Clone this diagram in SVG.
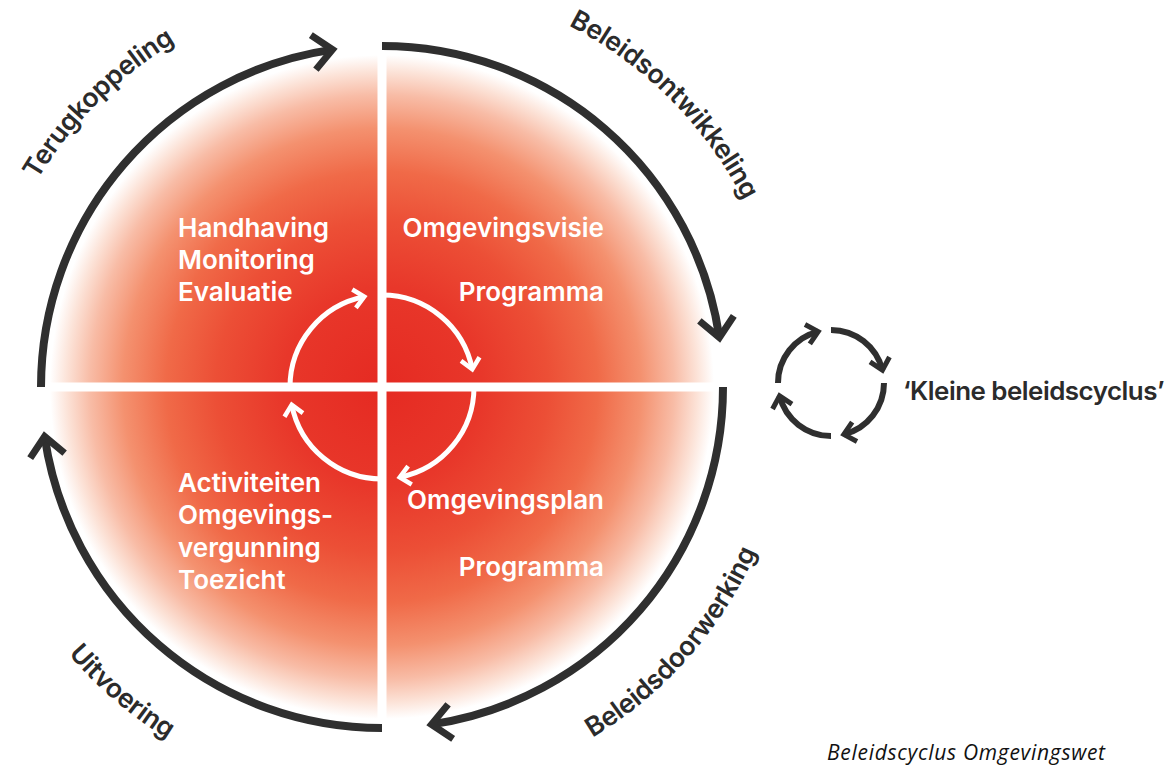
<svg xmlns="http://www.w3.org/2000/svg" width="1172" height="769" viewBox="0 0 1172 769">
  <defs>
    <radialGradient id="glow" cx="382" cy="387" r="332" gradientUnits="userSpaceOnUse">
      <stop offset="0" stop-color="#E52A22"/>
      <stop offset="0.3" stop-color="#E8372A"/>
      <stop offset="0.5" stop-color="#EC4F36"/>
      <stop offset="0.65" stop-color="#F06A48"/>
      <stop offset="0.78" stop-color="#F4916F"/>
      <stop offset="0.88" stop-color="#F8BCA6"/>
      <stop offset="0.95" stop-color="#FCE3D8"/>
      <stop offset="1" stop-color="#FFFFFF"/>
    </radialGradient>
    <marker id="headDark" markerUnits="userSpaceOnUse" viewBox="-30 -30 40 60" refX="0" refY="0" markerWidth="40" markerHeight="60" orient="auto">
      <path d="M-19.3,-17.4 L0,0 L-19.3,17.4" fill="none" stroke="#2f2f2f" stroke-width="7"/>
    </marker>
    <marker id="headWhite" markerUnits="userSpaceOnUse" viewBox="-20 -20 30 40" refX="0" refY="0" markerWidth="30" markerHeight="40" orient="auto">
      <path d="M-10.4,-9.4 L0,0 L-10.4,9.4" fill="none" stroke="#FFFFFF" stroke-width="4.5"/>
    </marker>
    <marker id="headSmall" markerUnits="userSpaceOnUse" viewBox="-20 -20 30 40" refX="0" refY="0" markerWidth="30" markerHeight="40" orient="auto">
      <path d="M-11.1,-10 L0,0 L-11.1,10" fill="none" stroke="#2f2f2f" stroke-width="5"/>
    </marker>
    <!-- baselines for the curved phase labels -->
    <path id="pathTL" d="M-20,387 A402,402 0 0 1 382,-15"/>
    <path id="pathTR" d="M382,-20 A407,407 0 0 1 789,387"/>
    <path id="pathBR" d="M382,796 A409,409 0 0 0 791,387"/>
    <path id="pathBL" d="M-30,387 A412,412 0 0 0 382,799"/>
  </defs>
  <style>
    .ring { fill: none; stroke: #2f2f2f; stroke-width: 8; }
    .inner { fill: none; stroke: #FFFFFF; stroke-width: 5; }
    .mini { fill: none; stroke: #2f2f2f; stroke-width: 6; }
    .phase { font-family: Inter, "Liberation Sans", sans-serif; font-weight: 600; font-size: 26.5px; letter-spacing: -0.3px; fill: #2b2b2b; }
    .task { font-family: Inter, "Liberation Sans", sans-serif; font-weight: 600; font-size: 26px; fill: #FFFFFF; }
    .small-label { font-family: Inter, "Liberation Sans", sans-serif; font-weight: 600; font-size: 25px; letter-spacing: -0.5px; fill: #2b2b2b; }
    .caption { font-family: "Open Sans", Lato, sans-serif; font-style: italic; font-size: 21px; fill: #111111; }
  </style>

  <rect width="1172" height="769" fill="#FFFFFF"/>

  <!-- red glow disc split into quadrants -->
  <g id="disc">
    <circle cx="382" cy="387" r="332" fill="url(#glow)"/>
    <line x1="382" y1="45" x2="382" y2="730" stroke="#FFFFFF" stroke-width="9"/>
    <line x1="40" y1="387" x2="730" y2="387" stroke="#FFFFFF" stroke-width="9"/>
  </g>

  <!-- outer cycle and inner cycle connectors -->
  <g id="connectors">
    <path class="ring" d="M382,46 A341,341 0 0 1 719.39,337.48" marker-end="url(#headDark)"/>
    <path class="ring" d="M723,387 A341,341 0 0 1 431.52,724.39" marker-end="url(#headDark)"/>
    <path class="ring" d="M382,728 A341,341 0 0 1 44.61,436.52" marker-end="url(#headDark)"/>
    <path class="ring" d="M41,387 A341,341 0 0 1 332.48,49.61" marker-end="url(#headDark)"/>

    <path class="inner" d="M382,295 A92,92 0 0 1 472.28,369.29" marker-end="url(#headWhite)"/>
    <path class="inner" d="M474,387 A92,92 0 0 1 399.71,477.28" marker-end="url(#headWhite)"/>
    <path class="inner" d="M382,479 A92,92 0 0 1 291.72,404.71" marker-end="url(#headWhite)"/>
    <path class="inner" d="M290,387 A92,92 0 0 1 364.29,296.72" marker-end="url(#headWhite)"/>
  </g>

  <!-- phase labels along the ring -->
  <g id="phase-terugkoppeling">
    <text class="phase"><textPath href="#pathTL" startOffset="50%" text-anchor="middle">Terugkoppeling</textPath></text>
  </g>
  <g id="phase-beleidsontwikkeling">
    <text class="phase"><textPath href="#pathTR" startOffset="50%" text-anchor="middle">Beleidsontwikkeling</textPath></text>
  </g>
  <g id="phase-beleidsdoorwerking">
    <text class="phase"><textPath href="#pathBR" startOffset="54%" text-anchor="middle">Beleidsdoorwerking</textPath></text>
  </g>
  <g id="phase-uitvoering">
    <text class="phase"><textPath href="#pathBL" startOffset="55%" text-anchor="middle">Uitvoering</textPath></text>
  </g>

  <!-- quadrant contents -->
  <g id="quadrant-top-left">
    <text class="task" x="178" y="237">Handhaving</text>
    <text class="task" x="178" y="269">Monitoring</text>
    <text class="task" x="178" y="301">Evaluatie</text>
  </g>
  <g id="quadrant-top-right">
    <text class="task" x="604" y="237" text-anchor="end">Omgevingsvisie</text>
    <text class="task" x="604" y="301" text-anchor="end">Programma</text>
  </g>
  <g id="quadrant-bottom-left">
    <text class="task" x="178" y="492">Activiteiten</text>
    <text class="task" x="178" y="524">Omgevings-</text>
    <text class="task" x="178" y="557">vergunning</text>
    <text class="task" x="178" y="589">Toezicht</text>
  </g>
  <g id="quadrant-bottom-right">
    <text class="task" x="604" y="509" text-anchor="end">Omgevingsplan</text>
    <text class="task" x="604" y="576" text-anchor="end">Programma</text>
  </g>

  <!-- small cycle legend -->
  <g id="small-cycle">
    <path class="mini" d="M831,330 A53,53 0 0 1 882.43,370.18" marker-end="url(#headSmall)"/>
    <path class="mini" d="M884,383 A53,53 0 0 1 843.82,434.43" marker-end="url(#headSmall)"/>
    <path class="mini" d="M831,436 A53,53 0 0 1 779.57,395.82" marker-end="url(#headSmall)"/>
    <path class="mini" d="M778,383 A53,53 0 0 1 818.18,331.57" marker-end="url(#headSmall)"/>
    <text class="small-label" x="903" y="400" textLength="261" lengthAdjust="spacingAndGlyphs">‘Kleine beleidscyclus’</text>
  </g>

  <g id="caption">
    <text class="caption" x="827" y="760" textLength="278" lengthAdjust="spacing">Beleidscyclus Omgevingswet</text>
  </g>
</svg>
